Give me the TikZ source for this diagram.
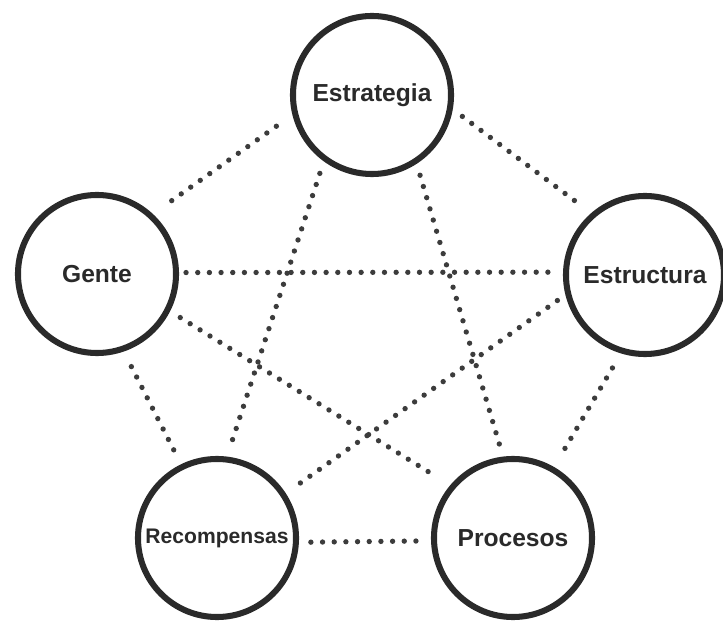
\documentclass[tikz,border=0pt]{standalone}
\usepackage{fontspec}
\setmainfont{Liberation Sans}
\usetikzlibrary{calc}
\definecolor{ring}{HTML}{2A2A2A}
\definecolor{dotc}{HTML}{3C3C3C}
\tikzset{
  hub/.style={
    circle, draw=ring, line width=4.3pt, fill=white, inner sep=0pt,
    minimum size=3.95cm, text=ring, font=\fontsize{17.5}{20}\selectfont\bfseries
  },
  link/.style={draw=dotc, line width=3.8pt, line cap=round, dash pattern=on 0pt off 8.3pt}
}
\begin{document}
\begin{tikzpicture}[x=0.025cm,y=-0.025cm]
  \useasboundingbox (0,0) rectangle (723,622);
  \node[hub] (estr) at (372,95) {Estrategia};
  \node[hub] (gente) at (97,274) {Gente};
  \node[hub] (estruc) at (645,275) {Estructura};
  \node[hub, font=\fontsize{15}{17}\selectfont\bfseries] (recomp) at (217,538) {Recompensas};
  \node[hub] (proc) at (513,538) {Procesos};
  % dotted links, a small gap left at both ends
  \foreach \a/\aa/\b/\bb/\s/\t in {
    estr/194.7/gente/47.5/14/10,
    estr/350.8/estruc/131.9/8.5/9,
    gente/1/estruc/178/5/5,
    estr/234.8/recomp/83.7/9/8,
    estr/303.7/proc/97.6/8.5/6.5,
    gente/333.4/proc/140/8.5/11,
    estruc/194.8/recomp/33.5/7/10.5,
    gente/289.2/recomp/116.8/12/11,
    estruc/253.2/proc/60/12/10,
    recomp/357.5/proc/182.4/8.5/10}
    \draw[link, shorten <=\s pt, shorten >=\t pt] (\a.\aa) -- (\b.\bb);
\end{tikzpicture}
\end{document}
